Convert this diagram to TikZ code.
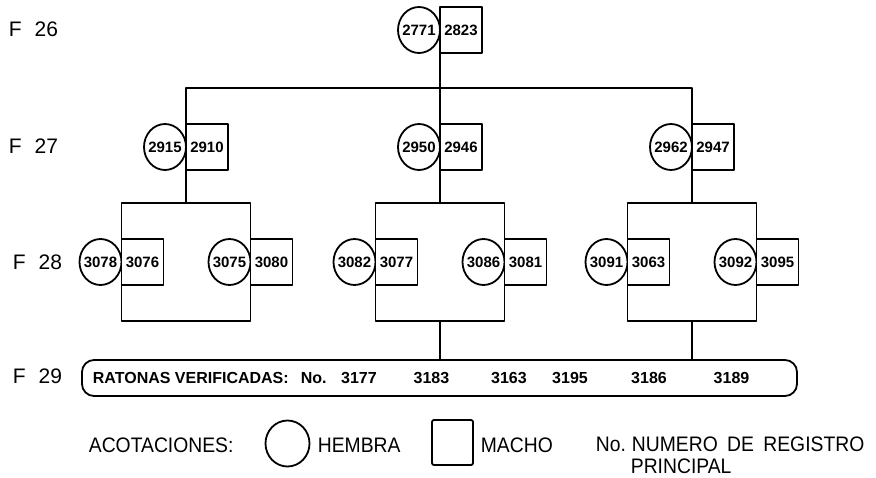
\documentclass[tikz,border=0pt]{standalone}
\usepackage{fontspec}
\setmainfont{Liberation Sans}
\newfontfamily\condfont[FakeStretch=0.92]{Liberation Sans}
\usetikzlibrary{shapes.geometric,calc}
\newcommand{\numin}[1]{\makebox[0pt]{#1}}
\begin{document}
\begin{tikzpicture}[x=1pt,y=-1pt,
  line width=1.8pt, line join=round,
  fem/.style={draw, ellipse, fill=white, minimum width=42pt, minimum height=46pt,
    inner sep=0pt, outer sep=0pt, font=\fontsize{15}{15}\selectfont\bfseries},
  mal/.style={draw, rectangle, fill=white, minimum width=42pt, minimum height=46pt,
    inner sep=0pt, outer sep=0pt, font=\fontsize{15}{15}\selectfont\bfseries},
  fam/.style={draw, rectangle, minimum width=129pt, minimum height=118pt,
    inner sep=0pt, outer sep=0pt},
  gen/.style={font=\fontsize{21}{21}\selectfont, anchor=west, inner sep=0pt},
  rowtxt/.style={font=\fontsize{16}{16}\selectfont\bfseries, inner sep=0pt},
  legtxt/.style={font=\condfont\fontsize{21}{21}\selectfont, anchor=west, inner sep=0pt}
]
\useasboundingbox (0,0) rectangle (876,477);

% generation labels
\node[gen] (f26) at (8,29) {F\hspace{13pt}26};
\node[gen] (f27) at (8,146) {F\hspace{13pt}27};
\node[gen] (f28) at (12,262) {F\hspace{13pt}28};
\node[gen] (f29) at (12,376) {F\hspace{13pt}29};

% F28 family boxes
\node[fam] (b1) at (186,262) {};
\node[fam] (b2) at (440,262) {};
\node[fam] (b3) at (692,262) {};

% F26
\node[fem, anchor=east] (c26) at (440,30) {\numin{2771}};
\node[mal, anchor=west] (s26) at (440,30) {2823};

% F27
\node[fem, anchor=east] (c27a) at (186,147) {\numin{2915}};
\node[mal, anchor=west] (s27a) at (186,147) {2910};
\node[fem, anchor=east] (c27b) at (440,147) {\numin{2950}};
\node[mal, anchor=west] (s27b) at (440,147) {2946};
\node[fem, anchor=east] (c27c) at (692,147) {\numin{2962}};
\node[mal, anchor=west] (s27c) at (692,147) {2947};

% F28
\node[fem, anchor=east] (c28a) at (b1.west) {\numin{3078}};
\node[mal, anchor=west] (s28a) at (b1.west) {3076};
\node[fem, anchor=east] (c28b) at (b1.east) {\numin{3075}};
\node[mal, anchor=west] (s28b) at (b1.east) {3080};
\node[fem, anchor=east] (c28c) at (b2.west) {\numin{3082}};
\node[mal, anchor=west] (s28c) at (b2.west) {3077};
\node[fem, anchor=east] (c28d) at (b2.east) {\numin{3086}};
\node[mal, anchor=west] (s28d) at (b2.east) {3081};
\node[fem, anchor=east] (c28e) at (b3.west) {\numin{3091}};
\node[mal, anchor=west] (s28e) at (b3.west) {3063};
\node[fem, anchor=east] (c28f) at (b3.east) {\numin{3092}};
\node[mal, anchor=west] (s28f) at (b3.east) {3095};

% F29 row
\node[draw, rounded corners=12pt, minimum width=715pt, minimum height=36pt,
  inner sep=0pt, outer sep=0pt] (r29) at (439.5,378) {};
\node[rowtxt, anchor=west] (t29) at (92,378) {RATONAS VERIFICADAS:};
\node[rowtxt, anchor=west] (no29) at (300,378) {No.};
\node[rowtxt] (n1) at (359,378) {3177};
\node[rowtxt] (n2) at (431.5,378) {3183};
\node[rowtxt] (n3) at (509,378) {3163};
\node[rowtxt] (n4) at (570,378) {3195};
\node[rowtxt] (n5) at (649,378) {3186};
\node[rowtxt] (n6) at (731.5,378) {3189};

% connectors
\coordinate (bar) at (440,88);
\draw (s26.south west) -- (bar);
\draw (s27a.north west) |- (bar) -| (s27c.north west);
\draw (bar) -- (s27b.north west);
\draw (s27a.south west) -- (b1.north);
\draw (s27b.south west) -- (b2.north);
\draw (s27c.south west) -- (b3.north);
\draw (b2.south) -- (b2.south |- r29.north);
\draw (b3.south) -- (b3.south |- r29.north);

% legend
\node[legtxt] (aco) at (88,445) {ACOTACIONES:};
\node[draw, ellipse, minimum width=44pt, minimum height=46pt, inner sep=0pt] (lf) at (287.5,443.5) {};
\node[legtxt] (lh) at (317,445) {HEMBRA};
\node[draw, rounded corners=2pt, minimum width=41pt, minimum height=45pt, inner sep=0pt] (lm) at (452.5,442.5) {};
\node[legtxt] (lmt) at (480,445) {MACHO};
\node[legtxt] (lno) at (595,444) {No.\hspace{6pt}NUMERO\hspace{4pt} DE\hspace{4pt} REGISTRO};
\node[legtxt] (lpr) at (630,466) {PRINCIPAL};
\end{tikzpicture}
\end{document}
